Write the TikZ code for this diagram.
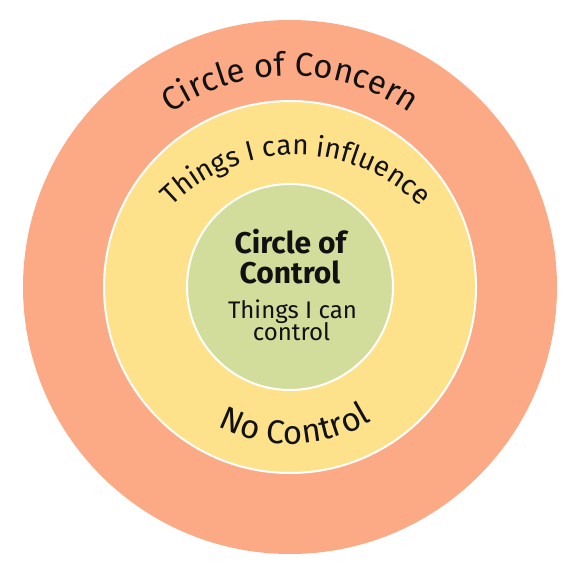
\documentclass[tikz,border=0pt]{standalone}
\usepackage{fontspec}
\setmainfont{Fira Sans}
\usetikzlibrary{decorations.text,calc}
\definecolor{concern}{HTML}{FCAA86}
\definecolor{influence}{HTML}{FDE28B}
\definecolor{controlc}{HTML}{D2DD9B}
\definecolor{ink}{HTML}{111111}
\tikzset{
  ring/.style={circle, inner sep=0pt, draw=white, line width=2pt},
  arctext/.style 2 args={decorate, decoration={text along path, text align=center, text color=ink, text={|\fontsize{#1}{#1}\selectfont|#2}}},
  titletext/.style={anchor=base, text=ink, font=\bfseries\fontsize{30}{30}\selectfont},
  subtext/.style={anchor=base, text=ink, font=\fontsize{24}{24}\selectfont}
}
\begin{document}
\begin{tikzpicture}[x=1pt,y=1pt]
\useasboundingbox (0,0) rectangle (586,574);
\coordinate (c) at (290,287);
\coordinate (ci) at (296,244);
\node[circle, inner sep=0pt, fill=concern, minimum size=534pt] (outer) at (c) {};
\node[ring, fill=influence, minimum size=372pt] (mid) at (c) {};
\node[ring, fill=controlc, minimum size=206pt] (inner) at (c) {};
\path[arctext={33}{Circle of Concern}] ($(c)+(160:211)$) arc[start angle=160, end angle=20, radius=211];
\path[arctext={28}{Things I can influence}] ($(ci)+(160:175)$) arc[start angle=160, end angle=20, radius=175];
\path[arctext={33}{No Control}] ($(c)+(212:157)$) arc[start angle=212, end angle=332, radius=157];
\node[titletext] (t1) at (290.5,321) {Circle of};
\node[titletext] (t2) at (290,291) {Control};
\node[subtext] (t3) at (292.5,256) {Things I can};
\node[subtext] (t4) at (291.5,234) {control};
\end{tikzpicture}
\end{document}
